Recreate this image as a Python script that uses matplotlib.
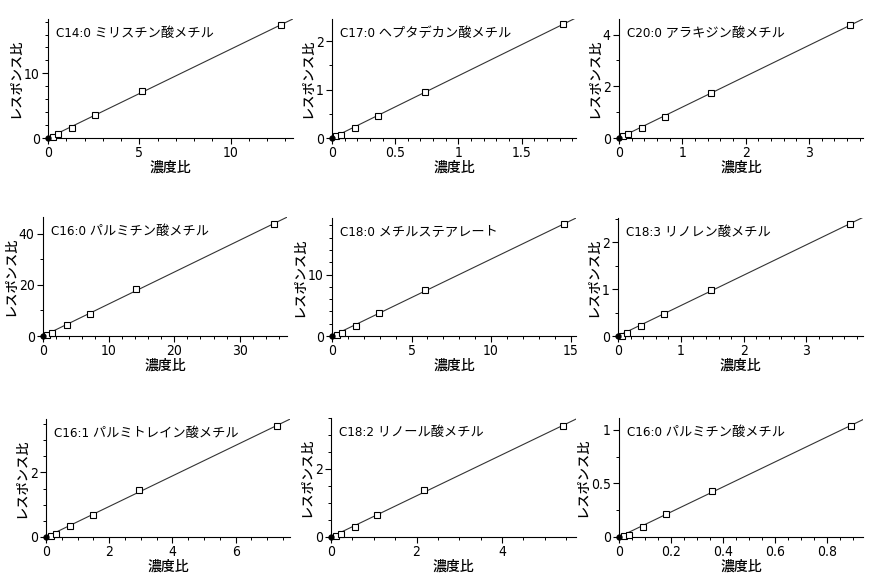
import numpy as np
import matplotlib
matplotlib.use("Agg")
import matplotlib.pyplot as plt
from matplotlib.ticker import MultipleLocator, FuncFormatter

plt.rcParams['font.family'] = ['DejaVu Sans', 'Noto Sans CJK JP']
plt.rcParams['font.stretch'] = 'condensed'

# ---------------- data ----------------
titles = [
    "C14:0 ミリスチン酸メチル",
    "C17:0 ヘプタデカン酸メチル",
    "C20:0 アラキジン酸メチル",
    "C16:0 パルミチン酸メチル",
    "C18:0 メチルステアレート",
    "C18:3 リノレン酸メチル",
    "C16:1 パルミトレイン酸メチル",
    "C18:2 リノール酸メチル",
    "C16:0 パルミチン酸メチル",
]

conc_1 = [0.27, 0.55, 1.32, 2.58, 5.15, 12.77]
resp_1 = [0.21, 0.63, 1.56, 3.49, 7.24, 17.5]
conc_2 = [0.032, 0.068, 0.179, 0.363, 0.732, 1.829]
resp_2 = [0.035, 0.056, 0.21, 0.46, 0.96, 2.35]
conc_3 = [0.063, 0.137, 0.358, 0.726, 1.458, 3.64]
resp_3 = [0.08, 0.16, 0.39, 0.82, 1.75, 4.36]
conc_4 = [0.66, 1.42, 3.6, 7.1, 14.16, 35.2]
resp_4 = [0.5, 1.05, 4.2, 8.6, 18.3, 43.8]
conc_5 = [0.29, 0.61, 1.51, 2.94, 5.84, 14.58]
resp_5 = [0.16, 0.54, 1.63, 3.7, 7.5, 18.2]
conc_6 = [0.069, 0.144, 0.367, 0.734, 1.479, 3.686]
resp_6 = [0.0, 0.057, 0.214, 0.47, 0.986, 2.39]
conc_7 = [0.158, 0.326, 0.747, 1.474, 2.958, 7.305]
resp_7 = [0.02, 0.08, 0.34, 0.67, 1.45, 3.44]
conc_8 = [0.109, 0.227, 0.555, 1.086, 2.18, 5.42]
resp_8 = [0.02, 0.09, 0.28, 0.65, 1.37, 3.27]
conc_9 = [0.018, 0.037, 0.092, 0.181, 0.360, 0.892]
resp_9 = [0.01, 0.02, 0.09, 0.21, 0.425, 1.04]

concs = [conc_1, conc_2, conc_3, conc_4, conc_5, conc_6, conc_7, conc_8, conc_9]
resps = [resp_1, resp_2, resp_3, resp_4, resp_5, resp_6, resp_7, resp_8, resp_9]

x_label = "濃度比"
y_label = "レスポンス比"

# ---------------- layout / style ----------------
xlims = [13.42, 1.93, 3.85, 37.2, 15.34, 3.9, 7.72, 5.73, 0.94]
ylims = [18.4, 2.46, 4.6, 46.5, 19.2, 2.52, 3.65, 3.5, 1.11]
x_major = [5, 0.5, 1, 10, 5, 1, 2, 2, 0.2]
x_minor = [1, 0.1, 0.2, 2, 1, 0.2, 0.5, 0.5, 0.05]
y_major = [10, 1, 2, 20, 10, 1, 2, 2, 0.5]
y_minor = [2, 0.5, 1, 10, 2, 0.5, 0.5, 0.5, 0.25]

# pixel boxes: (left, right, top, bottom)
boxes = [
    (48, 293, 19, 138), (332, 576, 19, 138), (619, 863, 19, 138),
    (43, 287, 217, 336), (332, 576, 218, 336), (618, 863, 218, 336),
    (46, 290, 419, 537), (331, 576, 418, 537), (619, 863, 418, 537),
]

fmt = FuncFormatter(lambda v, p: "%g" % round(v, 6))

W, H, DPI = 886, 582, 100
fig = plt.figure(figsize=(W / DPI, H / DPI), dpi=DPI)

for i in range(9):
    l, r, t, b = boxes[i]
    ax = fig.add_axes([l / W, 1 - b / H, (r - l) / W, (b - t) / H])
    x = np.array(concs[i])
    y = np.array(resps[i])
    slope = np.sum(x * y) / np.sum(x * x)
    xl = np.array([0, xlims[i] * 1.05])
    ax.plot(xl, slope * xl, color='#333333', lw=0.8, zorder=2)
    ax.plot(x, y, linestyle='none', marker='s', ms=5, mfc='white',
            mec='black', mew=0.8, zorder=4, clip_on=False)
    ax.plot([0], [0], linestyle='none', marker='o', ms=3.5, color='black',
            zorder=5, clip_on=False)
    ax.set_xlim(0, xlims[i])
    ax.set_ylim(0, ylims[i])
    ax.spines['top'].set_visible(False)
    ax.spines['right'].set_visible(False)
    ax.xaxis.set_major_locator(MultipleLocator(x_major[i]))
    ax.xaxis.set_minor_locator(MultipleLocator(x_minor[i]))
    ax.yaxis.set_major_locator(MultipleLocator(y_major[i]))
    ax.yaxis.set_minor_locator(MultipleLocator(y_minor[i]))
    ax.xaxis.set_major_formatter(fmt)
    ax.yaxis.set_major_formatter(fmt)
    ax.tick_params(which='major', direction='out', length=4, width=0.8,
                   labelsize=10, pad=2)
    ax.tick_params(which='minor', direction='out', length=2.5, width=0.7)
    ax.set_xlabel(x_label, fontsize=10, labelpad=0,
                  family=['Noto Sans CJK JP'], fontweight='medium')
    ax.set_ylabel(y_label, fontsize=9.5, labelpad=1,
                  family=['Noto Sans CJK JP'], fontweight='medium')
    ax.annotate(titles[i], xy=(0, 1), xycoords='axes fraction',
                xytext=(8, -8), textcoords='offset pixels',
                ha='left', va='top', fontsize=9.5)
    ax.patch.set_visible(False)

fig.savefig("out.png", dpi=DPI)
